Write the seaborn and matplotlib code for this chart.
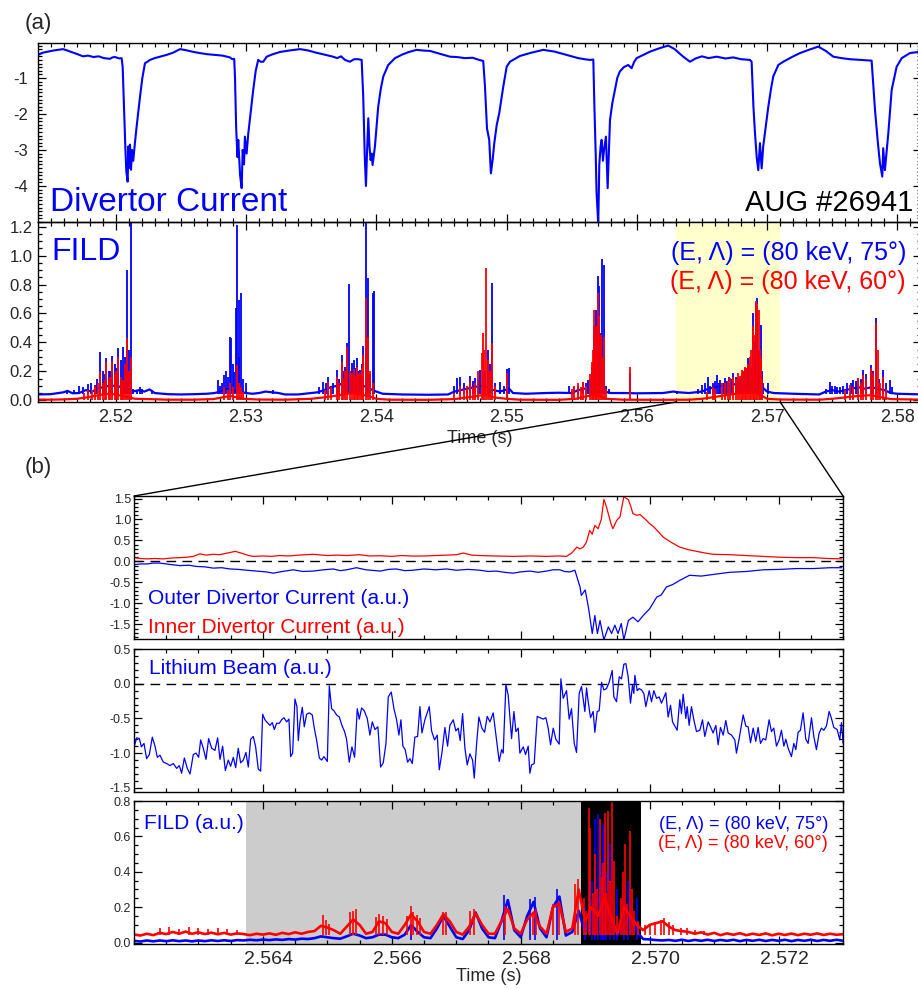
import numpy as np
import seaborn as sns
import matplotlib.pyplot as plt
from matplotlib.patches import ConnectionPatch
from matplotlib.ticker import MultipleLocator, FormatStrFormatter, FixedLocator
from matplotlib.transforms import ScaledTranslation

# ---------------- panel (a): divertor current (time s, value)
div_current = [
    (2.51404, -0.36), (2.51440, -0.30), (2.51480, -0.27), (2.51520, -0.24), (2.51560, -0.22),
    (2.51596, -0.20), (2.51630, -0.24), (2.51660, -0.28), (2.51700, -0.33), (2.51749, -0.40),
    (2.51790, -0.38), (2.51830, -0.42), (2.51870, -0.40), (2.51910, -0.45), (2.51956, -0.47),
    (2.51975, -0.43), (2.51995, -0.42), (2.52030, -0.46), (2.52046, -0.45), (2.52054, -0.70),
    (2.52066, -2.00), (2.52074, -2.90), (2.52082, -3.60), (2.52092, -3.88), (2.52098, -2.90),
    (2.52104, -3.50), (2.52110, -2.85), (2.52118, -3.55), (2.52126, -3.00), (2.52135, -3.30),
    (2.52148, -2.80), (2.52161, -2.35), (2.52175, -1.90), (2.52187, -1.52), (2.52205, -1.00),
    (2.52225, -0.59), (2.52240, -0.56), (2.52263, -0.50), (2.52300, -0.45), (2.52350, -0.40),
    (2.52391, -0.36), (2.52440, -0.30), (2.52494, -0.20), (2.52540, -0.23), (2.52600, -0.28),
    (2.52647, -0.31), (2.52700, -0.34), (2.52760, -0.36), (2.52820, -0.38), (2.52877, -0.43),
    (2.52895, -0.48), (2.52910, -0.47), (2.52916, -1.00), (2.52925, -2.40), (2.52935, -3.20),
    (2.52941, -2.72), (2.52955, -3.70), (2.52967, -4.06), (2.52975, -3.00), (2.52985, -3.40),
    (2.52992, -2.63), (2.53005, -3.10), (2.53018, -2.54), (2.53035, -2.00), (2.53056, -1.33),
    (2.53075, -0.80), (2.53094, -0.50), (2.53113, -0.55), (2.53133, -0.55), (2.53159, -0.41),
    (2.53200, -0.35), (2.53260, -0.28), (2.53330, -0.24), (2.53415, -0.20), (2.53480, -0.24),
    (2.53540, -0.30), (2.53600, -0.35), (2.53668, -0.41), (2.53700, -0.45), (2.53730, -0.40),
    (2.53760, -0.50), (2.53798, -0.55), (2.53830, -0.48), (2.53862, -0.48), (2.53888, -0.50),
    (2.53900, -1.50), (2.53912, -3.20), (2.53921, -4.00), (2.53930, -3.00), (2.53939, -2.12),
    (2.53948, -2.90), (2.53957, -3.28), (2.53965, -3.10), (2.53972, -3.42), (2.53990, -2.90),
    (2.54015, -1.80), (2.54035, -1.30), (2.54054, -0.96), (2.54092, -0.64), (2.54144, -0.45),
    (2.54200, -0.35), (2.54250, -0.28), (2.54310, -0.22), (2.54360, -0.24), (2.54412, -0.25),
    (2.54480, -0.32), (2.54566, -0.41), (2.54620, -0.42), (2.54680, -0.45), (2.54740, -0.44),
    (2.54790, -0.50), (2.54821, -0.53), (2.54834, -1.20), (2.54850, -2.40), (2.54867, -2.72),
    (2.54880, -3.65), (2.54893, -3.28), (2.54906, -2.81), (2.54925, -2.30), (2.54944, -1.98),
    (2.54975, -1.24), (2.55001, -0.69), (2.55026, -0.55), (2.55060, -0.48), (2.55103, -0.39),
    (2.55190, -0.30), (2.55282, -0.22), (2.55370, -0.27), (2.55461, -0.36), (2.55550, -0.45),
    (2.55600, -0.48), (2.55640, -0.50), (2.55666, -0.49), (2.55673, -1.60), (2.55685, -3.20),
    (2.55691, -4.20), (2.55704, -5.05), (2.55712, -3.40), (2.55722, -2.90), (2.55730, -2.72),
    (2.55740, -3.30), (2.55748, -3.00), (2.55763, -2.63), (2.55776, -4.06), (2.55794, -2.17),
    (2.55812, -1.70), (2.55832, -1.33), (2.55850, -1.00), (2.55870, -0.82), (2.55900, -0.70),
    (2.55934, -0.64), (2.55960, -0.73), (2.55980, -0.55), (2.55999, -0.45), (2.56050, -0.36),
    (2.56101, -0.27), (2.56170, -0.18), (2.56241, -0.10), (2.56290, -0.20), (2.56356, -0.41),
    (2.56408, -0.55), (2.56450, -0.46), (2.56500, -0.40), (2.56550, -0.45), (2.56613, -0.41),
    (2.56680, -0.46), (2.56740, -0.43), (2.56800, -0.48), (2.56868, -0.50), (2.56881, -0.55),
    (2.56895, -1.80), (2.56907, -2.54), (2.56920, -3.20), (2.56932, -3.56), (2.56945, -2.81),
    (2.56958, -3.51), (2.56970, -2.90), (2.56983, -2.54), (2.57009, -1.80), (2.57030, -1.30),
    (2.57047, -0.96), (2.57086, -0.64), (2.57124, -0.55), (2.57190, -0.42), (2.57252, -0.31),
    (2.57320, -0.22), (2.57392, -0.13), (2.57450, -0.25), (2.57508, -0.41), (2.57570, -0.45),
    (2.57636, -0.48), (2.57720, -0.50), (2.57802, -0.52), (2.57828, -1.89), (2.57848, -2.72),
    (2.57866, -3.37), (2.57884, -3.74), (2.57891, -2.95), (2.57904, -3.56), (2.57930, -2.54),
    (2.57956, -1.33), (2.57994, -0.69), (2.58033, -0.45), (2.58096, -0.31), (2.58158, -0.28),
    (2.58211, -0.26),
]

# ---------------- panel (a): FILD, slowly varying level + burst spikes
fild_a_blue_base = [
    (2.5140, 0.040), (2.5150, 0.042), (2.5160, 0.055), (2.5163, 0.065), (2.5167, 0.048),
    (2.5172, 0.050), (2.5177, 0.070), (2.5182, 0.060), (2.5186, 0.080), (2.5190, 0.090),
    (2.5195, 0.100), (2.5200, 0.100), (2.5205, 0.090), (2.5210, 0.070), (2.5213, 0.060),
    (2.5218, 0.070), (2.5222, 0.060), (2.5226, 0.075), (2.5230, 0.050), (2.5240, 0.042),
    (2.5250, 0.040), (2.5260, 0.042), (2.5270, 0.045), (2.5276, 0.050), (2.5280, 0.060),
    (2.5285, 0.080), (2.5290, 0.070), (2.5295, 0.060), (2.5300, 0.050), (2.5305, 0.045),
    (2.5310, 0.050), (2.5315, 0.060), (2.5320, 0.055), (2.5325, 0.050), (2.5330, 0.040),
    (2.5340, 0.040), (2.5350, 0.050), (2.5355, 0.055), (2.5360, 0.070), (2.5365, 0.090),
    (2.5370, 0.100), (2.5375, 0.120), (2.5380, 0.100), (2.5385, 0.120), (2.5390, 0.100),
    (2.5395, 0.080), (2.5400, 0.060), (2.5405, 0.045), (2.5420, 0.040), (2.5440, 0.038),
    (2.5455, 0.040), (2.5460, 0.060), (2.5465, 0.070), (2.5470, 0.080), (2.5475, 0.090),
    (2.5480, 0.100), (2.5485, 0.090), (2.5490, 0.070), (2.5495, 0.060), (2.5502, 0.080),
    (2.5505, 0.050), (2.5515, 0.045), (2.5530, 0.050), (2.5540, 0.052), (2.5550, 0.050),
    (2.5555, 0.070), (2.5560, 0.080), (2.5565, 0.100), (2.5570, 0.090), (2.5575, 0.060),
    (2.5580, 0.050), (2.5590, 0.050), (2.5600, 0.048), (2.5620, 0.050), (2.5628, 0.060),
    (2.5632, 0.055), (2.5640, 0.050), (2.5650, 0.060), (2.5655, 0.080), (2.5660, 0.090),
    (2.5665, 0.100), (2.5670, 0.100), (2.5675, 0.110), (2.5680, 0.120), (2.5685, 0.140),
    (2.5690, 0.120), (2.5695, 0.100), (2.5700, 0.060), (2.5705, 0.050), (2.5720, 0.045),
    (2.5740, 0.040), (2.5745, 0.060), (2.5750, 0.070), (2.5755, 0.060), (2.5760, 0.070),
    (2.5765, 0.080), (2.5770, 0.090), (2.5775, 0.080), (2.5780, 0.090), (2.5785, 0.080),
    (2.5790, 0.070), (2.5795, 0.050), (2.5800, 0.045), (2.5820, 0.040),
]
fild_a_blue_spikes = [
    (2.51630, 0.060), (2.51720, 0.100), (2.51790, 0.111), (2.51841, 0.104), (2.51880, 0.331),
    (2.51900, 0.200), (2.51926, 0.290), (2.51950, 0.200), (2.51972, 0.308), (2.51995, 0.250),
    (2.52018, 0.359), (2.52040, 0.280), (2.52059, 0.371), (2.52087, 0.899), (2.52118, 1.300),
    (2.52135, 0.080), (2.52187, 0.093), (2.52276, 0.074), (2.52788, 0.139), (2.52831, 0.174),
    (2.52846, 0.200), (2.52877, 0.440), (2.52885, 0.430), (2.52911, 0.197), (2.52921, 0.637),
    (2.52929, 1.210), (2.52944, 0.695), (2.52962, 0.741), (2.52998, 0.116), (2.53210, 0.074),
    (2.53594, 0.127), (2.53632, 0.162), (2.53670, 0.116), (2.53696, 0.208), (2.53734, 0.313),
    (2.53760, 0.232), (2.53778, 0.394), (2.53793, 0.806), (2.53811, 0.255), (2.53829, 0.278),
    (2.53849, 0.290), (2.53875, 0.208), (2.53901, 0.375), (2.53919, 1.300), (2.53934, 0.845),
    (2.53977, 0.741), (2.53985, 0.753), (2.54617, 0.151), (2.54642, 0.162), (2.54719, 0.167),
    (2.54757, 0.151), (2.54796, 0.208), (2.54821, 0.301), (2.54854, 0.347), (2.54890, 0.811),
    (2.54949, 0.127), (2.55005, 0.213), (2.55018, 0.220), (2.55589, 0.127), (2.55627, 0.139),
    (2.55653, 0.232), (2.55670, 0.510), (2.55683, 0.625), (2.55699, 0.857), (2.55711, 0.788),
    (2.55722, 0.463), (2.55734, 0.973), (2.55745, 0.938), (2.55947, 0.190), (2.56305, 0.065),
    (2.56497, 0.104), (2.56548, 0.162), (2.56586, 0.116), (2.56612, 0.174), (2.56640, 0.140),
    (2.56676, 0.151), (2.56710, 0.160), (2.56740, 0.185), (2.56778, 0.151), (2.56804, 0.174),
    (2.56830, 0.220), (2.56855, 0.290), (2.56880, 0.232), (2.56893, 0.602), (2.56911, 0.672),
    (2.56924, 0.707), (2.56937, 0.347), (2.56950, 0.521), (2.56970, 0.116), (2.57009, 0.116),
    (2.57482, 0.127), (2.57520, 0.100), (2.57558, 0.093), (2.57610, 0.116), (2.57661, 0.139),
    (2.57700, 0.151), (2.57737, 0.208), (2.57794, 0.243), (2.57835, 0.568), (2.57891, 0.208),
    (2.57942, 0.139),
    (2.51680, 0.070), (2.51750, 0.090), (2.51810, 0.120), (2.51860, 0.150), (2.51915, 0.180),
    (2.51960, 0.200), (2.52005, 0.220), (2.52075, 0.300), (2.52100, 0.350), (2.52160, 0.070),
    (2.52200, 0.080), (2.52800, 0.100), (2.52815, 0.120), (2.52860, 0.160), (2.52900, 0.250),
    (2.52950, 0.300), (2.52980, 0.150), (2.53560, 0.090), (2.53615, 0.120), (2.53650, 0.100),
    (2.53715, 0.150), (2.53745, 0.200), (2.53805, 0.200), (2.53840, 0.220), (2.53860, 0.200),
    (2.53890, 0.250), (2.53950, 0.180), (2.54600, 0.100), (2.54670, 0.120), (2.54700, 0.100),
    (2.54740, 0.130), (2.54780, 0.150), (2.54835, 0.200), (2.54870, 0.250), (2.54910, 0.120),
    (2.54980, 0.100), (2.55480, 0.100), (2.55520, 0.090), (2.55550, 0.100), (2.55610, 0.120),
    (2.55640, 0.150), (2.55690, 0.400), (2.55715, 0.300), (2.55760, 0.100), (2.55790, 0.080),
    (2.56470, 0.080), (2.56520, 0.120), (2.56560, 0.100), (2.56600, 0.130), (2.56630, 0.120),
    (2.56660, 0.120), (2.56690, 0.130), (2.56725, 0.150), (2.56760, 0.160), (2.56790, 0.160),
    (2.56815, 0.200), (2.56840, 0.220), (2.56870, 0.250), (2.56900, 0.400), (2.56960, 0.200),
    (2.57450, 0.080), (2.57500, 0.100), (2.57540, 0.090), (2.57580, 0.100), (2.57640, 0.120),
    (2.57680, 0.130), (2.57720, 0.150), (2.57760, 0.180), (2.57815, 0.200), (2.57860, 0.150),
    (2.57915, 0.120), (2.57960, 0.090),
]
fild_a_red_base = [
    (2.5140, 0.005), (2.5150, 0.004), (2.5160, 0.006), (2.5170, 0.010), (2.5178, 0.020),
    (2.5184, 0.030), (2.5190, 0.040), (2.5195, 0.045), (2.5200, 0.040), (2.5205, 0.030),
    (2.5210, 0.020), (2.5215, 0.010), (2.5225, 0.008), (2.5240, 0.004), (2.5260, 0.004),
    (2.5275, 0.008), (2.5282, 0.020), (2.5288, 0.030), (2.5293, 0.020), (2.5298, 0.010),
    (2.5310, 0.005), (2.5330, 0.004), (2.5350, 0.010), (2.5360, 0.020), (2.5368, 0.030),
    (2.5375, 0.040), (2.5382, 0.050), (2.5388, 0.040), (2.5394, 0.030), (2.5400, 0.010),
    (2.5410, 0.004), (2.5440, 0.003), (2.5460, 0.008), (2.5470, 0.020), (2.5478, 0.030),
    (2.5484, 0.040), (2.5490, 0.020), (2.5500, 0.010), (2.5510, 0.004), (2.5540, 0.003),
    (2.5553, 0.010), (2.5560, 0.025), (2.5566, 0.035), (2.5572, 0.030), (2.5576, 0.010),
    (2.5590, 0.004), (2.5620, 0.003), (2.5640, 0.004), (2.5650, 0.010), (2.5658, 0.020),
    (2.5665, 0.030), (2.5672, 0.040), (2.5680, 0.050), (2.5688, 0.060), (2.5694, 0.040),
    (2.5700, 0.010), (2.5710, 0.005), (2.5740, 0.004), (2.5750, 0.010), (2.5760, 0.020),
    (2.5770, 0.030), (2.5780, 0.035), (2.5788, 0.020), (2.5795, 0.008), (2.5820, 0.004),
]
fild_a_red_spikes = [
    (2.51790, 0.069), (2.51840, 0.100), (2.51880, 0.197), (2.51905, 0.120), (2.51926, 0.266),
    (2.51950, 0.150), (2.51972, 0.273), (2.51995, 0.180), (2.52018, 0.301), (2.52040, 0.160),
    (2.52059, 0.139), (2.52087, 0.433), (2.52118, 0.301), (2.52831, 0.093), (2.52877, 0.116),
    (2.52929, 0.243), (2.52962, 0.093), (2.53632, 0.127), (2.53696, 0.162), (2.53734, 0.266),
    (2.53778, 0.371), (2.53811, 0.185), (2.53829, 0.213), (2.53849, 0.232), (2.53875, 0.185),
    (2.53901, 0.313), (2.53919, 0.707), (2.53934, 0.440), (2.53977, 0.116), (2.54642, 0.097),
    (2.54719, 0.127), (2.54757, 0.116), (2.54808, 0.324), (2.54821, 0.463), (2.54842, 0.915),
    (2.54854, 0.278), (2.54890, 0.394), (2.55005, 0.185), (2.55550, 0.116), (2.55589, 0.127),
    (2.55653, 0.266), (2.55670, 0.625), (2.55683, 0.510), (2.55699, 0.741), (2.55711, 0.579),
    (2.55722, 0.452), (2.55745, 0.440), (2.55947, 0.232), (2.56535, 0.058), (2.56586, 0.093),
    (2.56650, 0.120), (2.56714, 0.151), (2.56740, 0.162), (2.56778, 0.185), (2.56804, 0.208),
    (2.56829, 0.232), (2.56855, 0.250), (2.56880, 0.347), (2.56893, 0.510), (2.56911, 0.683),
    (2.56924, 0.665), (2.56937, 0.625), (2.56950, 0.301), (2.57635, 0.104), (2.57700, 0.151),
    (2.57737, 0.174), (2.57794, 0.220), (2.57835, 0.533), (2.57853, 0.347), (2.57891, 0.162),
    (2.51760, 0.050), (2.51815, 0.070), (2.51865, 0.120), (2.51915, 0.140), (2.51960, 0.160),
    (2.52005, 0.200), (2.52050, 0.120), (2.52075, 0.250), (2.52100, 0.200), (2.52860, 0.070),
    (2.52900, 0.090), (2.52945, 0.120), (2.52980, 0.060), (2.53610, 0.070), (2.53650, 0.090),
    (2.53715, 0.120), (2.53745, 0.150), (2.53760, 0.200), (2.53795, 0.200), (2.53840, 0.170),
    (2.53860, 0.180), (2.53890, 0.220), (2.53950, 0.200), (2.54600, 0.050), (2.54670, 0.080),
    (2.54700, 0.100), (2.54740, 0.090), (2.54780, 0.200), (2.54830, 0.350), (2.54870, 0.200),
    (2.54910, 0.100), (2.55500, 0.080), (2.55520, 0.100), (2.55570, 0.090), (2.55610, 0.100),
    (2.55640, 0.180), (2.55660, 0.350), (2.55690, 0.450), (2.55730, 0.300), (2.55760, 0.080),
    (2.56600, 0.080), (2.56680, 0.120), (2.56700, 0.130), (2.56760, 0.150), (2.56790, 0.170),
    (2.56815, 0.200), (2.56840, 0.220), (2.56865, 0.300), (2.56900, 0.450), (2.56945, 0.350),
    (2.56960, 0.150), (2.57600, 0.070), (2.57660, 0.090), (2.57720, 0.120), (2.57760, 0.150),
    (2.57815, 0.190), (2.57870, 0.120), (2.57915, 0.080),
]
fild_a_blue_floor = 0.04
fild_a_red_floor = 0.005

# ---------------- panel (b): divertor currents
outer_div = [
    (2.56200, -0.08), (2.56210, -0.06), (2.56220, -0.06), (2.56230, -0.04), (2.56240, -0.04),
    (2.56255, -0.07), (2.56271, -0.10), (2.56285, -0.09), (2.56297, -0.12), (2.56310, -0.13),
    (2.56323, -0.16), (2.56336, -0.15), (2.56349, -0.18), (2.56362, -0.19), (2.56375, -0.21),
    (2.56390, -0.23), (2.56405, -0.25), (2.56416, -0.28), (2.56430, -0.24), (2.56447, -0.20),
    (2.56462, -0.24), (2.56478, -0.23), (2.56494, -0.20), (2.56509, -0.18), (2.56520, -0.22),
    (2.56530, -0.20), (2.56545, -0.15), (2.56560, -0.20), (2.56582, -0.23), (2.56595, -0.19),
    (2.56607, -0.18), (2.56620, -0.22), (2.56633, -0.21), (2.56650, -0.18), (2.56668, -0.20),
    (2.56685, -0.18), (2.56700, -0.21), (2.56718, -0.19), (2.56737, -0.21), (2.56750, -0.24),
    (2.56762, -0.23), (2.56775, -0.26), (2.56788, -0.28), (2.56800, -0.25), (2.56814, -0.23),
    (2.56827, -0.26), (2.56840, -0.23), (2.56850, -0.20), (2.56861, -0.20), (2.56868, -0.24),
    (2.56876, -0.25), (2.56884, -0.21), (2.56892, -0.61), (2.56894, -0.81), (2.56900, -0.68),
    (2.56905, -1.09), (2.56911, -1.72), (2.56915, -1.29), (2.56919, -1.72), (2.56923, -1.41),
    (2.56929, -1.87), (2.56936, -1.56), (2.56941, -1.72), (2.56946, -1.52), (2.56951, -1.72),
    (2.56956, -1.48), (2.56960, -1.87), (2.56967, -1.41), (2.56974, -1.33), (2.56982, -1.44),
    (2.56990, -1.29), (2.57000, -1.13), (2.57011, -0.85), (2.57018, -0.80), (2.57026, -0.61),
    (2.57036, -0.55), (2.57047, -0.45), (2.57062, -0.33), (2.57080, -0.35), (2.57099, -0.31),
    (2.57124, -0.26), (2.57150, -0.24), (2.57176, -0.20), (2.57202, -0.19), (2.57228, -0.17),
    (2.57254, -0.17), (2.57280, -0.15), (2.57298, -0.15),
]
inner_div = [
    (2.56200, 0.09), (2.56210, 0.07), (2.56220, 0.06), (2.56232, 0.07), (2.56245, 0.06),
    (2.56258, 0.08), (2.56271, 0.09), (2.56282, 0.10), (2.56292, 0.12), (2.56302, 0.18),
    (2.56312, 0.15), (2.56323, 0.17), (2.56332, 0.16), (2.56339, 0.18), (2.56348, 0.21),
    (2.56357, 0.24), (2.56364, 0.21), (2.56370, 0.18), (2.56378, 0.14), (2.56385, 0.12),
    (2.56400, 0.13), (2.56413, 0.12), (2.56426, 0.14), (2.56440, 0.13), (2.56455, 0.15),
    (2.56478, 0.17), (2.56500, 0.14), (2.56515, 0.15), (2.56530, 0.14), (2.56550, 0.16),
    (2.56565, 0.13), (2.56582, 0.135), (2.56600, 0.12), (2.56615, 0.14), (2.56633, 0.127),
    (2.56650, 0.13), (2.56668, 0.14), (2.56685, 0.15), (2.56700, 0.16), (2.56711, 0.20),
    (2.56724, 0.15), (2.56737, 0.14), (2.56760, 0.13), (2.56789, 0.12), (2.56815, 0.13),
    (2.56840, 0.12), (2.56858, 0.13), (2.56871, 0.12), (2.56879, 0.20), (2.56887, 0.34),
    (2.56892, 0.30), (2.56897, 0.34), (2.56902, 0.46), (2.56907, 0.74), (2.56911, 0.65),
    (2.56915, 0.86), (2.56920, 0.78), (2.56925, 1.00), (2.56929, 1.48), (2.56933, 1.30),
    (2.56936, 1.13), (2.56940, 0.90), (2.56943, 0.78), (2.56949, 0.98), (2.56954, 1.06),
    (2.56960, 1.55), (2.56964, 1.50), (2.56967, 1.47), (2.56971, 1.30), (2.56974, 1.14),
    (2.56980, 1.10), (2.56985, 1.12), (2.56990, 1.05), (2.56995, 0.98), (2.57000, 0.90),
    (2.57006, 0.83), (2.57014, 0.70), (2.57021, 0.58), (2.57034, 0.45), (2.57047, 0.34),
    (2.57060, 0.28), (2.57073, 0.24), (2.57086, 0.20), (2.57099, 0.17), (2.57125, 0.16),
    (2.57150, 0.14), (2.57176, 0.12), (2.57202, 0.10), (2.57228, 0.09), (2.57254, 0.09),
    (2.57276, 0.07), (2.57298, 0.06),
]

# ---------------- panel (b): lithium beam, time in microseconds after 2.562 s
li_t0 = 2.562
li_dt_us = [
    5, 41, 83, 114, 155, 196, 238, 284, 326, 362, 403, 455, 507, 558, 610, 662, 703, 739, 781, 827,
    869, 920, 962, 1003, 1034, 1075, 1117, 1158, 1205, 1256, 1298, 1334, 1375, 1417, 1463, 1499, 1541, 1577, 1618, 1654,
    1696, 1737, 1773, 1810, 1851, 1887, 1928, 1965, 1996, 2032, 2068, 2109, 2146, 2177, 2213, 2254, 2290, 2327, 2368, 2404,
    2430, 2461, 2497, 2528, 2549, 2575, 2611, 2642, 2678, 2719, 2766, 2797, 2833, 2875, 2911, 2947, 2999, 3030, 3066, 3102,
    3143, 3185, 3226, 3267, 3298, 3340, 3381, 3423, 3464, 3495, 3531, 3572, 3619, 3660, 3697, 3738, 3784, 3826, 3867, 3909,
    3945, 3991, 4033, 4074, 4110, 4141, 4172, 4208, 4245, 4281, 4317, 4358, 4400, 4436, 4467, 4513, 4581, 4617, 4663, 4705,
    4736, 4777, 4824, 4865, 4901, 4953, 4994, 5030, 5061, 5098, 5134, 5170, 5211, 5253, 5279, 5315, 5351, 5397, 5439, 5480,
    5522, 5573, 5625, 5666,
    5703, 5728, 5770, 5806, 5858, 5894, 5925, 5961, 5987, 6039, 6075, 6116, 6142, 6168, 6209, 6256, 6297, 6349, 6390, 6426,
    6463, 6504, 6545, 6597, 6623, 6659, 6711, 6752, 6788, 6830, 6866, 6907, 6943, 6995, 7021, 7047, 7083, 7124, 7150, 7186,
    7217, 7254, 7290, 7331, 7372, 7419, 7445, 7486, 7528, 7564, 7600, 7631, 7667, 7703, 7734, 7755, 7771, 7807, 7838, 7874,
    7910, 7941, 7993, 8029, 8065, 8107, 8148, 8184, 8251, 8287, 8324, 8355, 8391, 8427, 8468, 8494, 8520, 8562, 8582, 8613,
    8649, 8686, 8727, 8779, 8820, 8856, 8908, 8944, 8985, 9027, 9063, 9099, 9141, 9182, 9218, 9270, 9322, 9347, 9389, 9451,
    9492, 9528, 9565, 9606, 9647, 9683, 9720, 9761, 9802, 9854, 9890, 9926, 9968, 10009, 10045, 10082, 10113, 10149, 10200, 10237,
    10268, 10304, 10340, 10381, 10423, 10459, 10511, 10547, 10588, 10630, 10666, 10702, 10743, 10785, 10821, 10857, 10909, 10950, 10976, 11002,
]
li_beam = [
    -0.90, -0.78, -0.79, -0.91, -0.86, -1.08, -1.02, -0.77, -0.90, -1.06, -1.03, -1.13, -1.15, -1.18, -1.15, -1.22, -1.18, -1.29, -1.07, -1.22,
    -1.30, -1.02, -1.00, -1.06, -0.81, -0.93, -1.09, -0.79, -0.93, -0.96, -0.78, -1.09, -0.90, -1.25, -1.10, -1.19, -1.06, -1.21, -0.93, -1.14,
    -1.10, -0.99, -1.20, -0.80, -0.76, -0.91, -1.23, -1.26, -0.44, -0.52, -0.56, -0.60, -0.56, -0.66, -0.57, -0.57, -0.52, -0.49, -0.55, -0.51,
    -1.05, -1.00, -0.22, -0.33, -0.82, -0.55, -0.34, -0.62, -0.44, -0.42, -0.45, -0.64, -0.81, -1.07, -1.10, -1.05, -1.12, -0.03, -0.36, -0.39,
    -0.45, -0.48, -0.60, -0.69, -0.80, -1.13, -0.91, -1.06, -0.36, -0.51, -0.35, -0.39, -0.50, -0.74, -0.55, -0.66, -0.62, -1.20, -1.14, -0.86,
    -0.19, -0.12, -0.36, -0.52, -0.74, -0.52, -0.90, -0.95, -1.13, -1.08, -1.15, -0.77, -0.76, -0.33, -0.71, -0.52, -0.33, -0.68, -0.81, -0.74,
    -1.24, -1.00, -0.63, -0.90, -0.60, -0.52, -0.68, -0.64, -0.82, -0.43, -0.93, -1.17, -1.01, -1.10, -1.36, -0.87, -0.48, -0.64, -0.70, -0.47,
    -0.55, -0.42, -0.81, -1.12,
    -0.95, -1.00, -0.01, -0.17, -0.79, -0.40, -0.69, -0.64, -1.00, -0.91, -1.02, -0.90, -1.29, -1.17, -1.15, -0.47, -0.49, -0.51, -0.49, -0.64,
    -0.88, -0.64, -0.80, -0.87, 0.07, -0.21, -0.10, -0.51, -0.36, -0.86, -0.99, -0.14, -0.04, -0.40, -0.06, -0.26, -0.49, -0.40, -0.70, -0.40,
    -0.39, 0.02, -0.09, -0.07, 0.02, 0.19, -0.19, -0.26, 0.10, 0.07, 0.28, 0.29, 0.10, -0.28, -0.02, -0.14, 0.12, -0.10, -0.07, -0.09,
    -0.14, -0.33, -0.10, -0.26, -0.10, -0.21, -0.19, -0.28, -0.13, -0.48, -0.31, -0.55, -0.61, -0.67, -0.23, -0.43, -0.15, -0.50, -0.33, -0.60,
    -0.33, -0.52, -0.69, -0.67, -0.52, -0.76, -0.55, -0.62, -0.71, -0.60, -0.88, -0.63, -0.74, -0.53, -0.71, -0.74, -0.81, -1.00, -0.79, -0.45,
    -0.61, -0.62, -0.85, -0.64, -0.83, -0.63, -0.86, -0.79, -0.81, -0.52, -0.69, -0.64, -0.90, -0.81, -0.67, -0.90, -0.80, -0.93, -1.05, -0.86,
    -0.95, -0.70, -0.67, -0.42, -0.80, -0.86, -0.49, -0.76, -0.95, -0.71, -0.64, -0.67, -0.61, -0.40, -0.50, -0.63, -0.66, -0.81, -0.56, -0.86,
]

# ---------------- panel (b): FILD sampled every 0.1 ms, plus spikes
fild_b_t = [
    2.5620, 2.5621, 2.5622, 2.5623, 2.5624, 2.5625, 2.5626, 2.5627, 2.5628, 2.5629,
    2.5630, 2.5631, 2.5632, 2.5633, 2.5634, 2.5635, 2.5636, 2.5637, 2.5638, 2.5639,
    2.5640, 2.5641, 2.5642, 2.5643, 2.5644, 2.5645, 2.5646, 2.5647, 2.5648, 2.5649,
    2.5650, 2.5651, 2.5652, 2.5653, 2.5654, 2.5655, 2.5656, 2.5657, 2.5658, 2.5659,
    2.5660, 2.5661, 2.5662, 2.5663, 2.5664, 2.5665, 2.5666, 2.5667, 2.5668, 2.5669,
    2.5670, 2.5671, 2.5672, 2.5673, 2.5674, 2.5675, 2.5676, 2.5677, 2.5678, 2.5679,
    2.5680, 2.5681, 2.5682, 2.5683, 2.5684, 2.5685, 2.5686, 2.5687, 2.5688, 2.5689,
    2.5690, 2.5691, 2.5692, 2.5693, 2.5694, 2.5695, 2.5696, 2.5697, 2.5698, 2.5699,
    2.5700, 2.5701, 2.5702, 2.5703, 2.5704, 2.5705, 2.5706, 2.5707, 2.5708, 2.5709,
    2.5710, 2.5711, 2.5712, 2.5713, 2.5714, 2.5715, 2.5716, 2.5717, 2.5718, 2.5719,
    2.5720, 2.5721, 2.5722, 2.5723, 2.5724, 2.5725, 2.5726, 2.5727, 2.5728, 2.5729,
    2.5730,
]
fild_b_red = [
    0.045, 0.040, 0.050, 0.042, 0.055, 0.048, 0.060, 0.050, 0.062, 0.050,
    0.058, 0.048, 0.056, 0.047, 0.055, 0.045, 0.052, 0.048, 0.042, 0.050,
    0.045, 0.052, 0.044, 0.055, 0.048, 0.058, 0.050, 0.060, 0.065, 0.095,
    0.085, 0.070, 0.050, 0.090, 0.130, 0.100, 0.050, 0.060, 0.120, 0.110,
    0.060, 0.050, 0.100, 0.160, 0.120, 0.060, 0.050, 0.100, 0.160, 0.120,
    0.060, 0.045, 0.090, 0.165, 0.100, 0.050, 0.050, 0.120, 0.190, 0.080,
    0.050, 0.130, 0.170, 0.090, 0.050, 0.200, 0.220, 0.060, 0.080, 0.300,
    0.120, 0.200, 0.150, 0.250, 0.150, 0.050, 0.200, 0.150, 0.100, 0.070,
    0.100, 0.110, 0.120, 0.090, 0.070, 0.065, 0.060, 0.050, 0.058, 0.045,
    0.055, 0.042, 0.052, 0.044, 0.053, 0.042, 0.050, 0.043, 0.052, 0.041,
    0.050, 0.043, 0.051, 0.042, 0.050, 0.044, 0.052, 0.043, 0.050, 0.044,
    0.048,
]
fild_b_blue = [
    0.010, 0.006, 0.012, 0.007, 0.012, 0.008, 0.013, 0.008, 0.012, 0.007,
    0.012, 0.008, 0.013, 0.009, 0.013, 0.009, 0.014, 0.012, 0.016, 0.013,
    0.017, 0.014, 0.018, 0.015, 0.020, 0.017, 0.022, 0.020, 0.025, 0.035,
    0.030, 0.025, 0.022, 0.035, 0.050, 0.040, 0.025, 0.030, 0.045, 0.045,
    0.030, 0.025, 0.045, 0.100, 0.060, 0.030, 0.025, 0.080, 0.150, 0.090,
    0.030, 0.020, 0.070, 0.170, 0.080, 0.030, 0.025, 0.120, 0.240, 0.070,
    0.030, 0.150, 0.230, 0.080, 0.030, 0.200, 0.260, 0.040, 0.060, 0.180,
    0.050, 0.150, 0.250, 0.200, 0.120, 0.040, 0.100, 0.150, 0.060, 0.020,
    0.018, 0.014, 0.012, 0.015, 0.010, 0.016, 0.009, 0.015, 0.010, 0.016,
    0.009, 0.015, 0.010, 0.016, 0.008, 0.015, 0.010, 0.016, 0.009, 0.015,
    0.010, 0.016, 0.008, 0.015, 0.010, 0.016, 0.009, 0.015, 0.010, 0.016,
    0.010,
]
fild_b_red_spikes = [
    (2.56240, 0.080), (2.56255, 0.090), (2.56270, 0.075), (2.56285, 0.090), (2.56300, 0.080),
    (2.56315, 0.075), (2.56330, 0.080), (2.56345, 0.075), (2.56360, 0.070), (2.56493, 0.157),
    (2.56498, 0.125), (2.56503, 0.106), (2.56535, 0.172), (2.56540, 0.181), (2.56545, 0.190),
    (2.56576, 0.143), (2.56580, 0.162), (2.56587, 0.150), (2.56592, 0.134), (2.56623, 0.153),
    (2.56629, 0.205), (2.56633, 0.170), (2.56639, 0.155), (2.56644, 0.140), (2.56679, 0.170),
    (2.56684, 0.175), (2.56722, 0.180), (2.56727, 0.187), (2.56776, 0.205), (2.56819, 0.172),
    (2.56824, 0.190), (2.56850, 0.218), (2.56860, 0.237), (2.56884, 0.331), (2.56889, 0.359),
    (2.56902, 0.180), (2.56906, 0.763), (2.56908, 0.650), (2.56912, 0.280), (2.56923, 0.697),
    (2.56926, 0.370), (2.56931, 0.735), (2.56933, 0.280), (2.56936, 0.744), (2.56939, 0.350),
    (2.56942, 0.804), (2.56945, 0.460), (2.56962, 0.557), (2.56965, 0.220), (2.56969, 0.632),
    (2.56898, 0.250), (2.56916, 0.500), (2.56918, 0.300), (2.56928, 0.450), (2.56950, 0.150),
    (2.56955, 0.250), (2.56958, 0.400), (2.56972, 0.300), (2.56976, 0.180), (2.56982, 0.120),
    (2.56993, 0.100), (2.57001, 0.105), (2.57009, 0.115), (2.57017, 0.128), (2.57022, 0.139),
    (2.57030, 0.115), (2.57037, 0.100), (2.57048, 0.080), (2.57058, 0.080), (2.57070, 0.070),
    (2.57085, 0.065),
]
fild_b_blue_spikes = [
    (2.56629, 0.106), (2.56774, 0.269), (2.56814, 0.247), (2.56822, 0.257), (2.56857, 0.303),
    (2.56915, 0.700), (2.56920, 0.726), (2.56928, 0.669), (2.56929, 0.640), (2.56939, 0.556),
    (2.56949, 0.300), (2.56967, 0.350), (2.56980, 0.250), (2.56900, 0.200), (2.56910, 0.350),
    (2.56925, 0.450), (2.56933, 0.400), (2.56945, 0.200), (2.56960, 0.250),
]
fild_b_red_floor = 0.045
fild_b_blue_floor = 0.012

zoom_window = (2.563, 2.571)
gray_window = (2.56374, 2.56894)
black_window = (2.56894, 2.56987)
b_ticks = [2.564, 2.566, 2.568, 2.570, 2.572]

legend_75 = '(E, Λ) = (80 keV, 75°)'
legend_60 = '(E, Λ) = (80 keV, 60°)'

# ---------------- style
sns.set_style("ticks")
plt.rcParams['font.family'] = ['Liberation Sans', 'DejaVu Sans']
plt.rcParams['axes.unicode_minus'] = False

W, H = 918, 989
fig = plt.figure(figsize=(W / 100, H / 100), dpi=100)
fig.patch.set_facecolor('white')


def px_axes(left, top, right, bottom):
    return fig.add_axes([left / W, 1 - bottom / H, (right - left) / W, (bottom - top) / H])


def trace(ax, pts, color, lw):
    t, v = np.array(pts).T
    sns.lineplot(x=t, y=v, ax=ax, color=color, linewidth=lw, estimator=None,
                 sort=False, legend=False)


def spikes(ax, pts, floor, color, lw):
    t, v = np.array(pts).T
    ax.vlines(t, floor, v, colors=color, linewidth=lw)


def style(ax, xmaj, xmin, ymaj, ymin, xfs, yfs, ypad):
    ax.set_facecolor('none')
    for s in ax.spines.values():
        s.set_color('black')
        s.set_linewidth(1.0)
    ax.xaxis.set_major_locator(MultipleLocator(xmaj))
    ax.xaxis.set_minor_locator(MultipleLocator(xmin))
    ax.yaxis.set_major_locator(MultipleLocator(ymaj))
    ax.yaxis.set_minor_locator(MultipleLocator(ymin))
    ax.tick_params(which='both', direction='in', top=True, bottom=True, left=True,
                   right=True, color='black', width=0.9)
    ax.tick_params(which='major', length=6)
    ax.tick_params(which='minor', length=3)
    ax.tick_params(axis='x', labelsize=xfs, pad=5)
    ax.tick_params(axis='y', labelsize=yfs, pad=ypad)
    ax.set_xlabel('')
    ax.set_ylabel('')


ax_dc = px_axes(38, 43, 921, 222)
ax_fa = px_axes(38, 222, 921, 402)
ax_b1 = px_axes(134, 496, 843, 639)
ax_b2 = px_axes(134, 649, 843, 792)
ax_b3 = px_axes(134, 801, 843, 944)

xlim_a = (2.51404, 2.58181)
xlim_b = (2.562, 2.573)

# ---- (a) top
trace(ax_dc, div_current, 'blue', 1.5)
style(ax_dc, 0.01, 0.001, 1, 0.1, 13, 12, 7)
ax_dc.set_xlim(*xlim_a)
ax_dc.set_ylim(-5.0, -0.03)
ax_dc.yaxis.set_major_locator(FixedLocator([-4, -3, -2, -1]))
ax_dc.yaxis.set_major_formatter(FormatStrFormatter('%d'))
ax_dc.tick_params(axis='x', labelbottom=False)
ax_dc.text(0.0136, 0.063, 'Divertor Current', transform=ax_dc.transAxes, color='blue',
           fontsize=24, ha='left', va='baseline')
ax_dc.text(0.991, 0.063, 'AUG #26941', transform=ax_dc.transAxes, color='black',
           fontsize=21, ha='right', va='baseline')

# ---- (a) bottom
ax_fa.axvspan(*zoom_window, color='#FFFFCC', zorder=0, lw=0)
trace(ax_fa, fild_a_blue_base, 'blue', 1.6)
spikes(ax_fa, fild_a_blue_spikes, fild_a_blue_floor, 'blue', 1.3)
trace(ax_fa, fild_a_red_base, 'red', 1.6)
spikes(ax_fa, fild_a_red_spikes, fild_a_red_floor, 'red', 1.3)
style(ax_fa, 0.01, 0.001, 0.2, 0.05, 13, 12, 4)
ax_fa.set_xlim(*xlim_a)
ax_fa.set_ylim(-0.012, 1.232)
ax_fa.xaxis.set_major_formatter(FormatStrFormatter('%.2f'))
ax_fa.yaxis.set_major_formatter(FormatStrFormatter('%.1f'))
ax_fa.set_xlabel('Time (s)', fontsize=13, labelpad=3)
ax_fa.text(0.0155, 0.789, 'FILD', transform=ax_fa.transAxes, color='blue',
           fontsize=23, ha='left', va='baseline')
ax_fa.text(0.983, 0.826, legend_75, transform=ax_fa.transAxes, color='blue',
           fontsize=18, ha='right', va='center')
ax_fa.text(0.983, 0.668, legend_60, transform=ax_fa.transAxes, color='red',
           fontsize=18, ha='right', va='center')

# ---- (b) top
ax_b1.axhline(0, color='black', linewidth=1, linestyle=(0, (7, 4.5)), zorder=1)
trace(ax_b1, inner_div, 'red', 0.9)
trace(ax_b1, outer_div, 'blue', 0.9)
style(ax_b1, 0.002, 0.0005, 0.5, 0.1, 14, 9, 2)
ax_b1.set_xlim(*xlim_b)
ax_b1.set_ylim(-1.85, 1.56)
ax_b1.xaxis.set_major_locator(FixedLocator(b_ticks))
ax_b1.yaxis.set_major_formatter(FormatStrFormatter('%.1f'))
ax_b1.tick_params(axis='x', labelbottom=False)
ax_b1.text(0.02, 0.243, 'Outer Divertor Current (a.u.)', transform=ax_b1.transAxes,
           color='blue', fontsize=15, ha='left', va='baseline')
ax_b1.text(0.02, 0.044, 'Inner Divertor Current (a.u.)', transform=ax_b1.transAxes,
           color='red', fontsize=15, ha='left', va='baseline')

# ---- (b) middle
ax_b2.axhline(0, color='black', linewidth=1, linestyle=(0, (7, 4.5)), zorder=1)
li_t = li_t0 + np.array(li_dt_us) * 1e-6
sns.lineplot(x=li_t, y=li_beam, ax=ax_b2, color='blue', linewidth=0.9,
             estimator=None, sort=False, legend=False)
style(ax_b2, 0.002, 0.0005, 0.5, 0.1, 14, 9, 2)
ax_b2.set_xlim(*xlim_b)
ax_b2.set_ylim(-1.56, 0.5)
ax_b2.xaxis.set_major_locator(FixedLocator(b_ticks))
ax_b2.yaxis.set_major_formatter(FormatStrFormatter('%.1f'))
ax_b2.tick_params(axis='x', labelbottom=False)
ax_b2.text(0.0216, 0.825, 'Lithium Beam (a.u.)', transform=ax_b2.transAxes,
           color='blue', fontsize=15, ha='left', va='baseline')

# ---- (b) bottom
ax_b3.axvspan(*gray_window, color='#CCCCCC', zorder=0, lw=0)
ax_b3.axvspan(*black_window, color='black', zorder=0, lw=0)
sns.lineplot(x=fild_b_t, y=fild_b_blue, ax=ax_b3, color='blue', linewidth=1.9,
             estimator=None, sort=False, legend=False)
spikes(ax_b3, fild_b_blue_spikes, fild_b_blue_floor, 'blue', 1.2)
sns.lineplot(x=fild_b_t, y=fild_b_red, ax=ax_b3, color='red', linewidth=1.9,
             estimator=None, sort=False, legend=False)
spikes(ax_b3, fild_b_red_spikes, fild_b_red_floor, 'red', 1.2)
style(ax_b3, 0.002, 0.0005, 0.2, 0.05, 14, 9, 2)
ax_b3.set_xlim(*xlim_b)
ax_b3.set_ylim(-0.008, 0.8)
ax_b3.xaxis.set_major_locator(FixedLocator(b_ticks))
ax_b3.xaxis.set_major_formatter(FormatStrFormatter('%.3f'))
ax_b3.yaxis.set_major_formatter(FormatStrFormatter('%.1f'))
ax_b3.tick_params(axis='x', pad=5)
ax_b3.set_xlabel('Time (s)', fontsize=13, labelpad=0)
ax_b3.text(0.014, 0.802, 'FILD (a.u.)', transform=ax_b3.transAxes, color='blue',
           fontsize=15, ha='left', va='baseline')
ax_b3.text(0.979, 0.839, legend_75, transform=ax_b3.transAxes, color='blue',
           fontsize=13, ha='right', va='center')
ax_b3.text(0.979, 0.706, legend_60, transform=ax_b3.transAxes, color='red',
           fontsize=13, ha='right', va='center')
shift = ScaledTranslation(0.06, 0, fig.dpi_scale_trans)
for lab in ax_b3.get_xticklabels():
    lab.set_transform(lab.get_transform() + shift)

# ---- zoom connectors
for xa, xb in ((zoom_window[0], 0), (zoom_window[1], 1)):
    con = ConnectionPatch(xyA=(xa, 0), coordsA=ax_fa.get_xaxis_transform(),
                          xyB=(xb, 1), coordsB=ax_b1.transAxes, color='black', linewidth=1)
    fig.add_artist(con)

fig.text(25 / W, 1 - 24 / H, '(a)', fontsize=16, ha='left', va='center')
fig.text(25 / W, 1 - 468 / H, '(b)', fontsize=16, ha='left', va='center')

fig.savefig('out.png', dpi=100, facecolor='white')
